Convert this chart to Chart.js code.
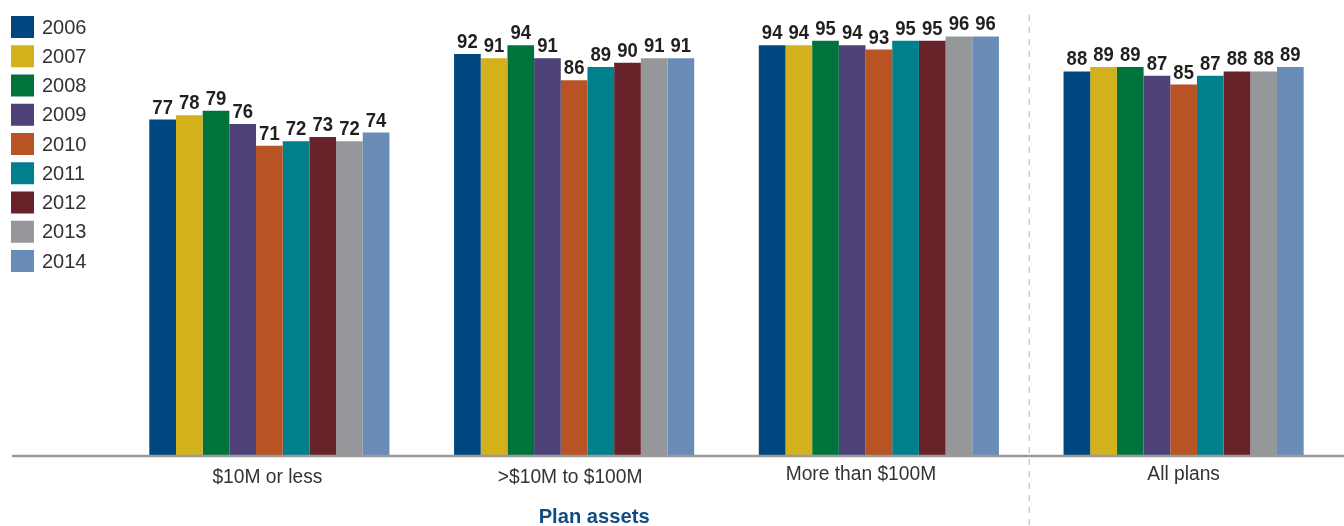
<!DOCTYPE html>
<html>
<head>
<meta charset="utf-8">
<script src="https://cdn.jsdelivr.net/npm/chart.js@4"></script>
<style>
    html, body { margin: 0; padding: 0; background: #fff; }
    #wrap { width: 1344px; height: 526px; position: relative; }
</style>
</head>
<body>
<div id="wrap"><canvas id="planChart"></canvas></div>
<script>
const categories = ["$10M or less", ">$10M to $100M", "More than $100M", "All plans"];
const years = ["2006", "2007", "2008", "2009", "2010", "2011", "2012", "2013", "2014"];
const values2006 = [77, 92, 94, 88];
const values2007 = [78, 91, 94, 89];
const values2008 = [79, 94, 95, 89];
const values2009 = [76, 91, 94, 87];
const values2010 = [71, 86, 93, 85];
const values2011 = [72, 89, 95, 87];
const values2012 = [73, 90, 95, 88];
const values2013 = [72, 91, 96, 88];
const values2014 = [74, 91, 96, 89];
const groupTitle = "Plan assets";

const yearColors = ["#00477f", "#d3b11c", "#00733c", "#4e4178", "#b85424", "#007f8c", "#682229", "#96979b", "#6a8db8"];
const seriesValues = [values2006, values2007, values2008, values2009, values2010, values2011, values2012, values2013, values2014];

const FONT = '"Liberation Sans", Arial, sans-serif';
// drobne przesunięcia podpisów kategorii (px) względem środka grupy
const labelShiftX = [-2, -4, -18, 0];
const labelShiftY = [477, 477, 474, 474];

function fillNarrow(ctx, text, x, y, sx) {
    ctx.save();
    ctx.translate(x, y);
    ctx.scale(sx, 1);
    ctx.fillText(text, 0, 0);
    ctx.restore();
}

// etykiety wartości nad słupkami, legenda, oś i podpisy
const decorPlugin = {
    id: "decor",
    afterDatasetsDraw(chart) {
        const ctx = chart.ctx;
        const area = chart.chartArea;
        const xScale = chart.scales.x;

        // wartości
        ctx.save();
        ctx.fillStyle = "#231f20";
        ctx.font = "bold 21px " + FONT;
        ctx.textAlign = "center";
        ctx.textBaseline = "alphabetic";
        chart.data.datasets.forEach((ds, i) => {
            chart.getDatasetMeta(i).data.forEach((bar, j) => {
                fillNarrow(ctx, String(ds.data[j]), bar.x, bar.y - 6, 0.88);
            });
        });
        ctx.restore();

        // linia osi
        ctx.save();
        ctx.strokeStyle = "#9a9a9a";
        ctx.lineWidth = 2.5;
        ctx.beginPath();
        ctx.moveTo(12, area.bottom);
        ctx.lineTo(chart.width, area.bottom);
        ctx.stroke();

        // przerywana linia przed "All plans"
        const sepX = (xScale.getPixelForValue(2) + xScale.getPixelForValue(3)) / 2 - 2;
        ctx.strokeStyle = "#b4b4b4";
        ctx.lineWidth = 1;
        ctx.setLineDash([6, 6]);
        ctx.beginPath();
        ctx.moveTo(sepX, 15);
        ctx.lineTo(sepX, chart.height);
        ctx.stroke();
        ctx.restore();

        // podpisy kategorii
        ctx.save();
        ctx.fillStyle = "#333";
        ctx.font = "20px " + FONT;
        ctx.textAlign = "center";
        ctx.textBaseline = "middle";
        categories.forEach((label, i) => {
            fillNarrow(ctx, label, xScale.getPixelForValue(i) + labelShiftX[i], labelShiftY[i], 0.96);
        });
        ctx.fillStyle = "#0f4c81";
        ctx.font = "bold 21px " + FONT;
        fillNarrow(ctx, groupTitle, xScale.getPixelForValue(1) + 20, 517, 0.96);
        ctx.restore();

        // legenda
        ctx.save();
        ctx.font = "20px " + FONT;
        ctx.textAlign = "left";
        ctx.textBaseline = "middle";
        chart.data.datasets.forEach((ds, i) => {
            const cy = 27 + i * 29.25;
            ctx.fillStyle = ds.backgroundColor;
            ctx.fillRect(11, cy - 11, 23, 22);
            ctx.fillStyle = "#333";
            ctx.fillText(ds.label, 42, cy + 1);
        });
        ctx.restore();
    }
};

const ctx = document.getElementById("planChart").getContext("2d");
new Chart(ctx, {
    type: "bar",
    data: {
        labels: categories,
        datasets: years.map((year, i) => ({
            label: year,
            data: seriesValues[i],
            backgroundColor: yearColors[i],
            borderWidth: 0,
            categoryPercentage: 0.788,
            barPercentage: 1.0
        }))
    },
    options: {
        responsive: true,
        maintainAspectRatio: false,
        animation: false,
        layout: { padding: { left: 117, right: 8, top: 19, bottom: 70 } },
        scales: {
            x: { display: false },
            y: { display: false, min: 0, max: 100 }
        },
        plugins: {
            legend: { display: false },
            tooltip: { enabled: false }
        }
    },
    plugins: [decorPlugin]
});
</script>
</body>
</html>
